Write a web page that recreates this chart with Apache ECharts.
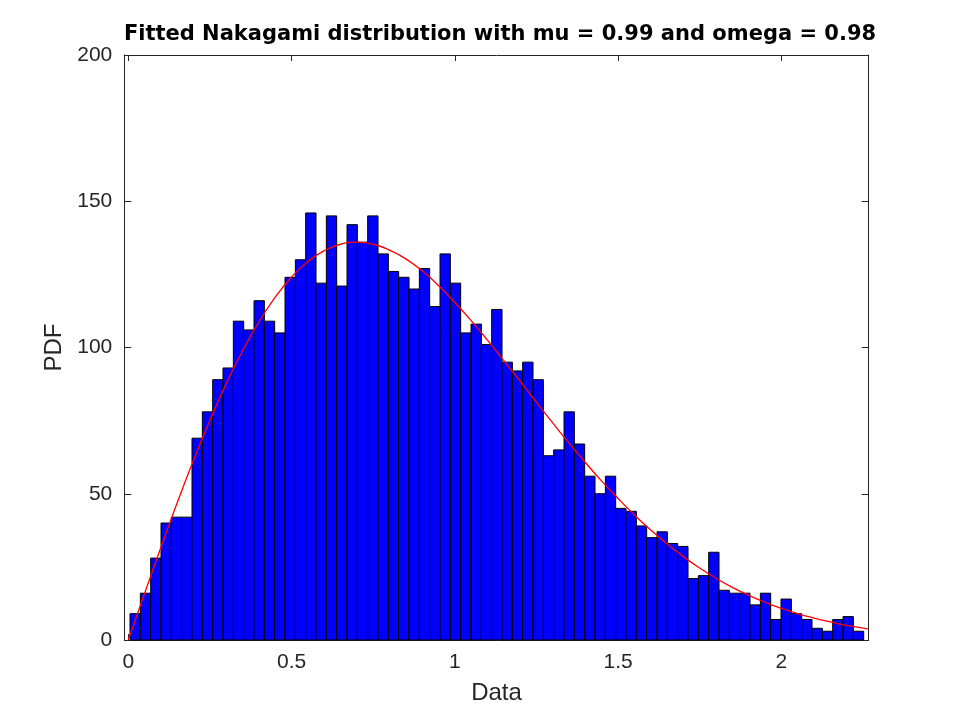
<!DOCTYPE html>
<html>
<head>
<meta charset="utf-8">
<script src="https://cdn.jsdelivr.net/npm/echarts@6/dist/echarts.min.js"></script>
<style>
  html, body { margin: 0; padding: 0; background: #fff; }
  #chart { width: 960px; height: 720px; }
</style>
</head>
<body>
<div id="chart"></div>
<script>
// histogram: 71 bins, first left edge and bin width in data units
var binStart = 0.0052;
var binWidth = 0.03165;
var counts = [
  9, 16, 28, 40, 42, 42, 69, 78, 89, 93,
  109, 106, 116, 109, 105, 124, 130, 146, 122, 145,
  121, 142, 136, 145, 132, 126, 124, 120, 127, 114,
  132, 122, 105, 108, 101, 113, 95, 92, 95, 89,
  63, 65, 78, 67, 56, 50, 56, 45, 44, 39,
  35, 37, 33, 32, 21, 22, 30, 17, 16, 16,
  12, 16, 7, 14, 9, 7, 4, 3, 7, 8, 3
];

// fitted curve
var curveX = [0, 0.05, 0.1, 0.15, 0.2, 0.25, 0.3, 0.35, 0.4, 0.45,
  0.5, 0.55, 0.6, 0.65, 0.7, 0.75, 0.8, 0.85, 0.9, 0.95,
  1, 1.05, 1.1, 1.15, 1.2, 1.25, 1.3, 1.35, 1.4, 1.45,
  1.5, 1.55, 1.6, 1.65, 1.7, 1.75, 1.8, 1.85, 1.9, 1.95,
  2, 2.05, 2.1, 2.15, 2.2, 2.265];
var curveY = [0, 16.0, 31.7, 47.0, 61.5, 75.1, 87.7, 98.9, 108.8, 117.2,
  124.1, 129.4, 133.1, 135.3, 136.0, 135.3, 133.3, 130.3, 126.2, 121.2,
  115.4, 109.2, 102.5, 95.5, 88.5, 81.3, 74.2, 67.3, 60.7, 54.3,
  48.4, 42.8, 37.6, 32.9, 28.5, 24.6, 21.1, 18.0, 15.3, 12.9,
  10.8, 9.0, 7.5, 6.2, 5.0, 3.8];

var xTicks = [0, 0.5, 1, 1.5, 2];

var barData = counts.map(function (c, i) {
  var x0 = binStart + i * binWidth;
  return [x0, x0 + binWidth, c];
});
var lineData = curveX.map(function (x, i) { return [x, curveY[i]]; });

var chart = echarts.init(document.getElementById('chart'));
var axisColor = '#262626';
var fontFam = '"Liberation Sans", Arial, sans-serif';

chart.setOption({
  animation: false,
  backgroundColor: '#fff',
  title: {
    text: 'Fitted Nakagami distribution with mu = 0.99 and omega = 0.98',
    left: 495, top: 19, textAlign: 'center',
    textStyle: { fontFamily: '"DejaVu Sans", sans-serif', fontSize: 21, fontWeight: 'bold', color: '#000' }
  },
  grid: { left: 124.3, right: 91.3, top: 55, bottom: 80, containLabel: false },
  xAxis: [{
    type: 'value', min: -0.0123, max: 2.2677, position: 'bottom',
    name: 'Data', nameLocation: 'middle', nameGap: 41,
    nameTextStyle: { fontFamily: fontFam, fontSize: 24, color: axisColor },
    axisLine: { show: true, onZero: false, lineStyle: { color: axisColor, width: 1 } },
    axisTick: { show: true, inside: true, length: 6, customValues: xTicks, lineStyle: { color: axisColor } },
    axisLabel: { customValues: xTicks, margin: 12, fontFamily: fontFam, fontSize: 21, color: axisColor },
    splitLine: { show: false }
  }, {
    type: 'value', min: -0.0123, max: 2.2677, position: 'top',
    axisLine: { show: true, onZero: false, lineStyle: { color: axisColor, width: 1 } },
    axisTick: { show: true, inside: true, length: 6, customValues: xTicks, lineStyle: { color: axisColor } },
    axisLabel: { show: false },
    splitLine: { show: false }
  }],
  yAxis: [{
    type: 'value', min: 0, max: 200, interval: 50, position: 'left',
    name: 'PDF', nameLocation: 'middle', nameGap: 51, nameRotate: 90,
    nameTextStyle: { fontFamily: fontFam, fontSize: 24, color: axisColor },
    axisLine: { show: true, onZero: false, lineStyle: { color: axisColor, width: 1 } },
    axisTick: { show: true, inside: true, length: 7, lineStyle: { color: axisColor } },
    axisLabel: { margin: 12, fontFamily: fontFam, fontSize: 21, color: axisColor },
    splitLine: { show: false }
  }, {
    type: 'value', min: 0, max: 200, interval: 50, position: 'right',
    axisLine: { show: true, onZero: false, lineStyle: { color: axisColor, width: 1 } },
    axisTick: { show: true, inside: true, length: 7, lineStyle: { color: axisColor } },
    axisLabel: { show: false },
    splitLine: { show: false }
  }],
  series: [{
    type: 'custom',
    xAxisIndex: 0, yAxisIndex: 0,
    data: barData,
    renderItem: function (params, api) {
      var p0 = api.coord([api.value(0), api.value(2)]);
      var p1 = api.coord([api.value(1), 0]);
      return {
        type: 'rect',
        shape: { x: p0[0], y: p0[1], width: p1[0] - p0[0], height: p1[1] - p0[1] },
        style: { fill: '#0000ff', stroke: '#000', lineWidth: 1 }
      };
    }
  }, {
    type: 'line',
    xAxisIndex: 0, yAxisIndex: 0,
    data: lineData,
    smooth: true,
    showSymbol: false,
    clip: true,
    lineStyle: { color: '#ff0000', width: 1.3 },
    z: 5
  }]
});
</script>
</body>
</html>
